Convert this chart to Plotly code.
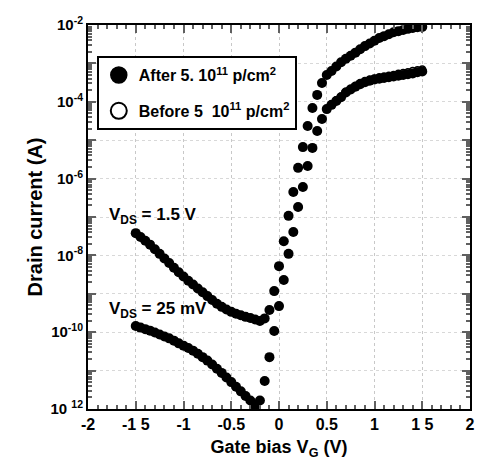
import plotly.graph_objects as go

# Gate bias (V), 0.05 V steps
vg = [round(-1.5 + 0.05 * i, 2) for i in range(61)]

# log10 of drain current (A), after irradiation
log_id_after_15V = [
    -7.42, -7.52, -7.62, -7.72, -7.84, -7.96, -8.08, -8.20, -8.32, -8.44,
    -8.55, -8.66, -8.76, -8.86, -8.96, -9.06, -9.16, -9.26, -9.34, -9.41,
    -9.47, -9.52, -9.56, -9.60, -9.63, -9.67, -9.71, -9.64, -9.42, -8.93,
    -8.28, -7.63, -6.97, -6.35, -5.72, -5.18, -4.63, -4.16, -3.82, -3.51,
    -3.30, -3.20, -3.08, -2.97, -2.88, -2.80, -2.72, -2.63, -2.55, -2.48,
    -2.41, -2.34, -2.29, -2.24, -2.19, -2.16, -2.13, -2.10, -2.08, -2.06,
    -2.05,
]
log_id_after_25mV = [
    -9.84, -9.88, -9.92, -9.96, -10.01, -10.06, -10.11, -10.16, -10.22, -10.29,
    -10.35, -10.41, -10.48, -10.56, -10.65, -10.74, -10.84, -10.95, -11.06, -11.18,
    -11.30, -11.42, -11.54, -11.66, -11.78, -11.92, -11.78, -11.27, -10.65, -9.97,
    -9.32, -8.64, -7.96, -7.39, -6.74, -6.22, -5.67, -5.20, -4.76, -4.45,
    -4.19, -4.08, -3.98, -3.88, -3.76, -3.68, -3.61, -3.54, -3.49, -3.45,
    -3.42, -3.40, -3.38, -3.36, -3.34, -3.32, -3.30, -3.28, -3.26, -3.23,
    -3.21,
]
# before irradiation (mostly hidden below the "after" points)
log_id_before_15V = [
    -7.42, -7.52, -7.62, -7.72, -7.84, -7.96, -8.08, -8.20, -8.32, -8.44,
    -8.55, -8.66, -8.76, -8.86, -8.96, -9.06, -9.16, -9.26, -9.34, -9.41,
    -9.47, -9.52, -9.56, -9.60, -9.63, -9.67, -9.71, -9.64, -9.42, -8.93,
    -8.28, -7.63, -6.97, -6.35, -5.72, -5.18, -4.63, -4.16, -3.82, -3.51,
    -3.30, -3.20, -3.08, -2.97, -2.88, -2.80, -2.72, -2.63, -2.55, -2.48,
    -2.41, -2.34, -2.29, -2.24, -2.19, -2.16, -2.13, -2.10, -2.08, -2.06,
    -2.05,
]
log_id_before_25mV = [
    -9.84, -9.88, -9.92, -9.96, -10.01, -10.06, -10.11, -10.16, -10.22, -10.29,
    -10.35, -10.41, -10.48, -10.56, -10.65, -10.74, -10.84, -10.95, -11.06, -11.18,
    -11.30, -11.42, -11.54, -11.66, -11.78, -11.92, -11.78, -11.27, -10.65, -9.97,
    -9.32, -8.64, -7.96, -7.39, -6.74, -6.22, -5.67, -5.20, -4.76, -4.45,
    -4.19, -4.07, -3.96, -3.86, -3.74, -3.66, -3.58, -3.51, -3.46, -3.42,
    -3.39, -3.36, -3.34, -3.32, -3.30, -3.27, -3.25, -3.23, -3.20, -3.18,
    -3.16,
]

legend_after = "After 5. 10<sup>11</sup> p/cm<sup>2</sup>"
legend_before = "Before 5  10<sup>11</sup> p/cm<sup>2</sup>"

x_tickvals = [-2, -1.5, -1, -0.5, 0, 0.5, 1, 1.5, 2]
x_ticktext = ["-2", "-1 5", "-1", "-0.5", "0", "0.5", "1", "1 5", "2"]
y_decades = [-12, -11, -10, -9, -8, -7, -6, -5, -4, -3, -2]
y_ticktext = ["10 <sup>12</sup>", "", "10<sup>-10</sup>", "", "10<sup>-8</sup>", "",
              "10<sup>-6</sup>", "", "10<sup>-4</sup>", "", "10<sup>-2</sup>"]

FONT = "Liberation Sans, Arial, sans-serif"
INK = "#606060"

fig = go.Figure()

def pw(vals):
    return [10 ** v for v in vals]

for yv in (log_id_before_15V, log_id_before_25mV):
    fig.add_trace(go.Scatter(
        x=vg, y=pw(yv), mode="markers", showlegend=False,
        marker=dict(symbol="circle", size=7, color="white",
                    line=dict(color="black", width=1.5))))
for yv in (log_id_after_15V, log_id_after_25mV):
    fig.add_trace(go.Scatter(
        x=vg, y=pw(yv), mode="markers", showlegend=False,
        marker=dict(symbol="circle", size=10, color="black",
                    line=dict(width=0))))

# legend entries
fig.add_trace(go.Scatter(
    x=[None], y=[None], mode="markers", name=legend_after, legendgroup="a",
    marker=dict(symbol="circle", size=20, color="black", line=dict(color="black", width=1.5))))
fig.add_trace(go.Scatter(
    x=[None], y=[None], mode="markers", name=legend_before, legendgroup="b",
    marker=dict(symbol="circle", size=20, color="white", line=dict(color="black", width=2))))

minor_y = [10 ** d * m for d in range(-12, -2) for m in range(2, 10)]

fig.update_xaxes(
    range=[-2, 2], tickmode="array", tickvals=x_tickvals, ticktext=x_ticktext,
    ticks="inside", ticklen=8, tickwidth=2, tickcolor=INK,
    showline=True, linecolor="black", linewidth=2, mirror="ticks",
    showgrid=True, gridcolor="#c8c8c8", griddash="dot", gridwidth=1,
    zeroline=False,
    minor=dict(dtick=0.1, tick0=0, ticks="inside", ticklen=4, tickwidth=2,
               tickcolor=INK, showgrid=False),
    tickfont=dict(family=FONT, size=16, color="black", weight="bold"),
    title=dict(text="Gate bias V<sub>G</sub> (V)", standoff=8,
               font=dict(family=FONT, size=18, color="black", weight="bold")),
)
fig.update_yaxes(
    type="log", range=[-12, -2], tickmode="array",
    tickvals=[10 ** d for d in y_decades], ticktext=y_ticktext,
    ticks="inside", ticklen=8, tickwidth=2, tickcolor=INK,
    showline=True, linecolor="black", linewidth=2, mirror="ticks",
    showgrid=True, gridcolor="#d8d8d8", griddash="dot", gridwidth=1,
    zeroline=False,
    minor=dict(tickmode="array", tickvals=minor_y, ticks="inside", ticklen=4, tickwidth=2,
               tickcolor=INK, showgrid=False),
    tickfont=dict(family=FONT, size=15, color="black", weight="bold"),
    title=dict(text="Drain current (A)", standoff=2,
               font=dict(family=FONT, size=20, color="black", weight="bold")),
)

fig.add_annotation(x=-1.80, y=-6.98, xref="x", yref="y", xanchor="left", yanchor="middle",
                   text="V<sub>DS</sub> = 1.5 V", showarrow=False,
                   font=dict(family=FONT, size=17, color="black", weight="bold"))
fig.add_annotation(x=-1.80, y=-9.42, xref="x", yref="y", xanchor="left", yanchor="middle",
                   text="V<sub>DS</sub> = 25 mV", showarrow=False,
                   font=dict(family=FONT, size=17, color="black", weight="bold"))

fig.update_layout(
    width=483, height=475,
    margin=dict(l=88, r=8, t=25, b=66),
    paper_bgcolor="white", plot_bgcolor="white",
    showlegend=True,
    legend=dict(x=0.023, y=0.919, xanchor="left", yanchor="top",
                bgcolor="white", bordercolor="black", borderwidth=2,
                font=dict(family=FONT, size=16, color="black", weight="bold"),
                tracegroupgap=12, itemsizing="trace"),
)

fig.write_html("out.html")
